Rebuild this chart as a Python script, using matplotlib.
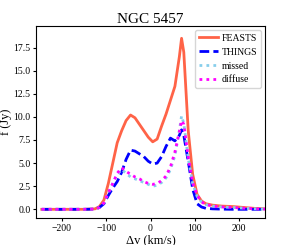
import matplotlib
matplotlib.use("Agg")
import matplotlib.pyplot as plt

plt.rcParams['font.family'] = ['Liberation Serif', 'DejaVu Serif']
plt.rcParams['mathtext.fontset'] = 'stix'

vel = [-245, -200, -150, -125, -115, -105, -95, -85, -75, -65, -55, -45, -35, -25, -15, -5,
       5, 15, 25, 35, 45, 55, 65, 70, 75, 85, 95, 105, 115, 125, 140, 160, 185, 210, 235, 258]
feasts = [0, 0, 0, 0.05, 0.3, 1.0, 2.8, 5.0, 7.2, 8.5, 9.6, 10.2, 9.9, 9.2, 8.5, 7.8,
          7.3, 7.6, 9.0, 10.3, 11.8, 13.3, 16.5, 18.5, 17.0, 8.5, 3.8, 1.6, 0.9, 0.6, 0.45, 0.35, 0.3, 0.2, 0.1, 0.05]
things = [0, 0, 0, 0.02, 0.2, 0.6, 1.5, 2.3, 3.0, 4.0, 5.4, 6.4, 6.3, 6.0, 5.7, 5.2,
          4.9, 5.0, 5.7, 6.8, 7.7, 7.4, 8.0, 8.6, 8.0, 5.2, 2.2, 0.6, 0.25, 0.1, 0.05, 0.02, 0, 0, 0, 0]
missed = [0, 0, 0, 0.02, 0.2, 0.7, 1.8, 2.8, 3.8, 4.3, 3.9, 3.5, 3.3, 3.1, 2.9, 2.7,
          2.5, 2.6, 2.9, 3.4, 4.3, 5.8, 8.5, 10.1, 9.3, 5.5, 2.8, 1.4, 0.8, 0.5, 0.35, 0.25, 0.2, 0.12, 0.06, 0.02]
diffuse = [0, 0, 0, 0.02, 0.2, 0.7, 1.8, 2.8, 3.9, 4.5, 4.1, 3.8, 3.5, 3.3, 3.0, 2.8,
           2.7, 2.8, 3.1, 3.6, 4.6, 6.2, 8.4, 9.6, 9.2, 5.7, 2.9, 1.5, 0.8, 0.5, 0.35, 0.25, 0.2, 0.12, 0.06, 0.02]

fig = plt.figure(figsize=(2.94, 2.45), dpi=100)
ax = fig.add_axes([36/294, 1-218/245, (265-36)/294, (218-26)/245])
ax.plot(vel, feasts, color='tomato', lw=2, label='FEASTS')
ax.plot(vel, things, color='blue', lw=2, ls=(0, (3.5, 1.5)), label='THINGS')
ax.plot(vel, missed, color='skyblue', lw=2, ls=(0, (1, 1.5)), label='missed')
ax.plot(vel, diffuse, color='magenta', lw=2, ls=(0, (1, 1.5)), label='diffuse')
ax.set_xlim(-258, 258)
ax.set_ylim(-0.94, 19.83)
ax.set_xticks([-200, -100, 0, 100, 200])
ax.set_yticks([0, 2.5, 5, 7.5, 10, 12.5, 15, 17.5])
ax.tick_params(labelsize=7, length=2.5, width=0.8, pad=1.5)
ax.set_xlabel('Δv (km/s)', fontsize=9, labelpad=1)
ax.set_ylabel('f (Jy)', fontsize=9, labelpad=1)
ax.set_title('NGC 5457', fontsize=11, pad=2)
ax.legend(loc='upper right', fontsize=7, handlelength=1.9, borderpad=0.4, labelspacing=0.5,
          handletextpad=0.4, borderaxespad=0.4)
fig.savefig('out.png', dpi=100)
